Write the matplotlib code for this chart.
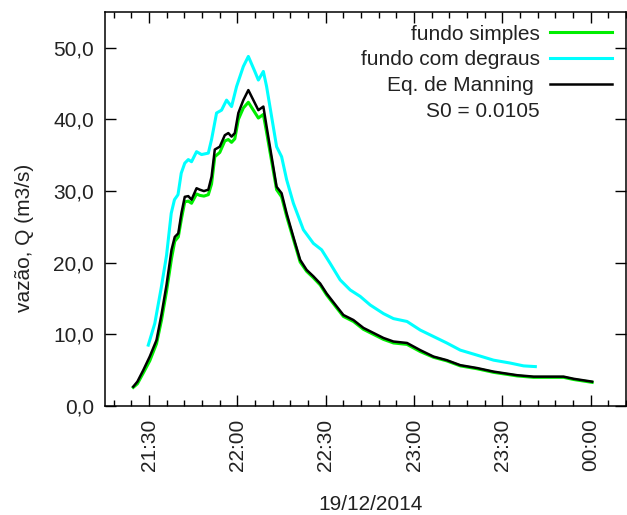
import pandas as pd
import matplotlib
matplotlib.use("Agg")
import matplotlib.pyplot as plt
import matplotlib.dates as mdates
from matplotlib.ticker import FuncFormatter, MultipleLocator
from matplotlib.lines import Line2D

plt.rcParams['font.family'] = ['Liberation Sans', 'DejaVu Sans']

# --- Data: discharge series, minutes after 21:30 on 19/12/2014 ---
t_simples = [-5.4, -4.0, -2.0, 0.2, 2.5, 4.2, 5.9, 7.6, 8.7, 9.9, 11.0, 12.1,
             13.3, 14.4, 16.1, 17.2, 18.6, 20.1, 21.2, 22.3, 24.0, 25.7, 26.9,
             28.0, 29.1, 30.3, 32.0, 33.7, 35.4, 37.1, 38.8, 39.9, 41.6, 43.3,
             45.0, 46.7, 49.0, 51.3, 53.5, 55.8, 58.1, 60.3, 63.7, 66.0, 69.4,
             72.8, 76.2, 79.6, 83.0, 87.6, 92.1, 96.6, 101.1, 105.7, 111.4,
             117.0, 125.0, 130.6, 136.3, 140.8, 144.2, 150.5]
q_simples = [2.6, 3.1, 4.6, 6.3, 8.7, 12.0, 16.0, 20.6, 23.0, 23.6, 26.2, 28.5,
             28.6, 28.3, 29.6, 29.4, 29.3, 29.5, 31.0, 34.8, 35.4, 37.0, 37.2,
             36.8, 37.3, 40.0, 41.6, 42.4, 41.3, 40.2, 40.7, 38.2, 34.2, 30.2,
             29.2, 26.5, 23.3, 20.1, 18.8, 17.9, 16.9, 15.5, 13.7, 12.5, 11.8,
             10.7, 10.0, 9.3, 8.8, 8.6, 7.6, 6.8, 6.3, 5.6, 5.2,
             4.7, 4.2, 4.0, 4.0, 4.0, 3.7, 3.3]

t_manning = t_simples
q_manning = [2.7, 3.4, 5.0, 6.9, 9.2, 12.8, 16.9, 21.8, 23.6, 24.1, 27.0, 29.2,
             29.3, 28.8, 30.4, 30.2, 30.0, 30.2, 32.0, 35.8, 36.2, 37.8, 38.1,
             37.6, 38.1, 40.9, 42.7, 44.1, 42.7, 41.3, 41.8, 39.0, 34.8, 30.6,
             29.7, 26.9, 23.6, 20.4, 19.0, 18.1, 17.1, 15.7, 13.9, 12.7, 12.0,
             10.9, 10.2, 9.5, 9.0, 8.8, 7.8, 6.9, 6.4, 5.7, 5.3,
             4.8, 4.3, 4.1, 4.1, 4.1, 3.8, 3.4]

t_degraus = [-0.3, 1.9, 4.1, 5.9, 7.5, 8.6, 9.8, 10.9, 12.1, 13.3, 14.4, 16.1,
             17.8, 20.1, 21.2, 22.9, 24.6, 26.3, 28.0, 29.7, 32.0, 33.7, 35.9,
             37.1, 38.8, 39.9, 41.6, 43.3, 45.0, 46.7, 49.0, 52.4, 55.8, 58.6,
             61.5, 64.9, 68.3, 71.7, 75.1, 79.6, 83.0, 87.6, 92.1, 96.6, 101.1,
             105.7, 111.4, 117.0, 122.6, 127.2, 131.2]
q_degraus = [8.5, 11.5, 16.5, 21.0, 26.9, 28.8, 29.5, 32.5, 33.9, 34.4, 34.1, 35.5,
             35.1, 35.3, 37.2, 40.9, 41.3, 42.7, 41.8, 44.6, 47.4, 48.8, 46.7,
             45.5, 46.7, 44.6, 40.4, 36.2, 34.8, 31.6, 28.3, 24.6, 22.7, 21.8,
             19.9, 17.6, 16.2, 15.3, 14.1, 12.9, 12.2, 11.8, 10.6, 9.7, 8.8,
             7.8, 7.1, 6.4, 6.0, 5.6, 5.5]

base = pd.Timestamp("2014-12-19 21:30")


def to_time(minutes):
    return base + pd.to_timedelta(minutes, unit="min")


TXT = "#222222"

fig = plt.figure(figsize=(6.27, 5.15), dpi=100)
ax = fig.add_axes([105 / 627, 109 / 515, 521 / 627, 394 / 515])

ax.plot(to_time(t_simples), q_simples, color="#00ee00", lw=2.2,
        label="fundo simples")
ax.plot(to_time(t_degraus), q_degraus, color="#00ffff", lw=2.2,
        label="fundo com degraus")
ax.plot(to_time(t_manning), q_manning, color="black", lw=1.8,
        label="Eq. de Manning ")
s0 = Line2D([], [], color="none", label="S0 = 0.0105")

ax.set_xlim(to_time(-15), to_time(162))
ax.set_ylim(0, 55)

ax.xaxis.set_major_locator(mdates.MinuteLocator(byminute=[0, 30]))
ax.xaxis.set_minor_locator(mdates.MinuteLocator(byminute=range(0, 60, 6)))
ax.xaxis.set_major_formatter(mdates.DateFormatter("%H:%M"))
ax.yaxis.set_major_locator(MultipleLocator(10))
ax.yaxis.set_major_formatter(FuncFormatter(lambda v, p: f"{v:.1f}".replace(".", ",")))

ax.tick_params(which="both", direction="in", top=True, right=True,
               colors="black", labelcolor=TXT, labelsize=15, width=1.0)
ax.tick_params(which="major", length=8)
ax.tick_params(which="minor", length=4)
ax.tick_params(axis="x", which="major", pad=9, labelrotation=90)
ax.tick_params(axis="y", which="major", pad=8)
for sp in ax.spines.values():
    sp.set_linewidth(1.1)

# gnuplot-style key: right-aligned labels, line samples on the right
handles, labels = ax.get_legend_handles_labels()
leg = ax.legend(handles + [s0], labels + ["S0 = 0.0105"], loc="upper right",
                frameon=False, markerfirst=False, fontsize=15,
                handlelength=2.97, handletextpad=0.5, labelspacing=0.33,
                borderpad=0, borderaxespad=0, bbox_to_anchor=(0.973, 0.968))
for txt in leg.get_texts():
    txt.set_color(TXT)

fig.text(25 / 627, 1 - 238 / 515, "vazão, Q (m3/s)", rotation=90,
         ha="center", va="center", fontsize=15, color=TXT)
fig.text(371 / 627, 1 - 505 / 515, "19/12/2014", ha="center", va="center",
         fontsize=15, color=TXT)

fig.savefig("out.png", dpi=100)
